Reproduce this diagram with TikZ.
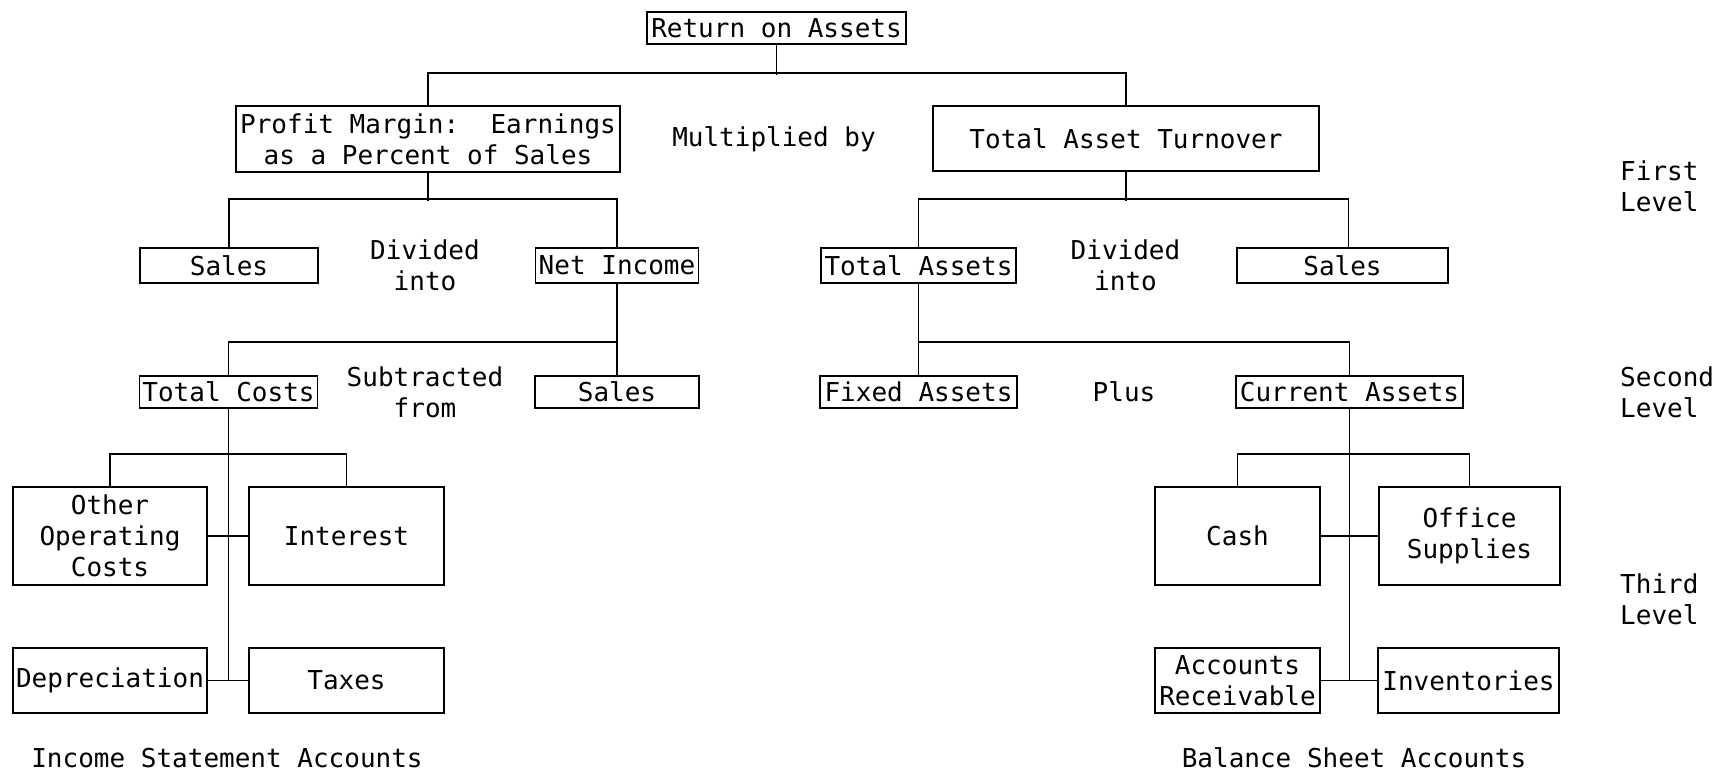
\documentclass[tikz,border=0pt]{standalone}
\usepackage{fontspec}
\setmainfont{DejaVu Sans Mono}
\begin{document}
\begin{tikzpicture}[x=1pt,y=-1pt,
  every node/.style={font=\fontsize{26}{31}\selectfont},
  box/.style={draw,line width=1.8pt,inner sep=0pt,align=center},
  lbl/.style={inner sep=0pt,align=center},
  lvl/.style={inner sep=0pt,align=left,anchor=west},
  conn/.style={line width=1.8pt}]
\fill[white] (0,0) rectangle (1720,772);
\useasboundingbox (0,0) rectangle (1720,772);

% top
\node[box,minimum width=259,minimum height=32] (roa) at (776.5,28) {Return on Assets};
\node[box,minimum width=384,minimum height=66] (pm) at (428,139) {Profit Margin:~~Earnings\\as a Percent of Sales};
\node[lbl] (mult) at (774,139) {Multiplied by};
\node[box,minimum width=386,minimum height=65] (tat) at (1126,138.5) {Total Asset Turnover};

% first level
\node[box,minimum width=178,minimum height=35] (sales1) at (229,265.5) {Sales};
\node[lbl] (div1) at (425,265) {Divided\\into};
\node[box,minimum width=163,minimum height=35] (ni) at (617,265.5) {Net Income};
\node[box,minimum width=195,minimum height=35] (ta) at (918.5,265.5) {Total Assets};
\node[lbl] (div2) at (1125.5,265) {Divided\\into};
\node[box,minimum width=211,minimum height=35] (sales2) at (1342.5,265.5) {Sales};
\node[lvl] (first) at (1620,186) {First\\Level};

% second level
\node[box,minimum width=178,minimum height=32] (tc) at (228.5,392) {Total Costs};
\node[lbl] (sub) at (425,392) {Subtracted\\from};
\node[box,minimum width=164,minimum height=32] (sales3) at (617,392) {Sales};
\node[box,minimum width=197,minimum height=32] (fa) at (918.5,392) {Fixed Assets};
\node[lbl] (plus) at (1124,392) {Plus};
\node[box,minimum width=227,minimum height=32] (ca) at (1349.5,392) {Current Assets};
\node[lvl] (second) at (1620,392) {Second\\Level};

% third level
\node[box,minimum width=194,minimum height=98] (ooc) at (110,536) {Other\\Operating\\Costs};
\node[box,minimum width=195,minimum height=98] (int) at (346.5,536) {Interest};
\node[box,minimum width=194,minimum height=65] (dep) at (110,680.5) {Depreciation};
\node[box,minimum width=195,minimum height=65] (tax) at (346.5,680.5) {Taxes};
\node[box,minimum width=165,minimum height=98] (cash) at (1237.5,536) {Cash};
\node[box,minimum width=181,minimum height=98] (os) at (1469.5,536) {Office\\Supplies};
\node[box,minimum width=165,minimum height=65] (ar) at (1237.5,680.5) {Accounts\\Receivable};
\node[box,minimum width=181,minimum height=65] (inv) at (1468.5,680.5) {Inventories};
\node[lvl] (third) at (1620,599) {Third\\Level};

\node[lbl] (isa) at (227,758) {Income Statement Accounts};
\node[lbl] (bsa) at (1354,758) {Balance Sheet Accounts};

% connectors
\draw[conn] (roa.south) -- ++(0,30);
\draw[conn] (pm.north) -- ++(0,-32) -| (tat.north);

\draw[conn] (pm.south) -- ++(0,28);
\draw[conn] (sales1.north) -- ++(0,-48) -| (ni.north);
\draw[conn] (tat.south) -- ++(0,29.5);
\draw[conn] (ta.north) -- ++(0,-48) -| ([xshift=6pt]sales2.north);

\draw[conn] (ni.south) -- (sales3.north);
\draw[conn] (tc.north) -- ++(0,-33) -| (sales3.north);
\draw[conn] (ta.south) -- (fa.north);
\draw[conn] (fa.north) -- ++(0,-33) -| (ca.north);

\draw[conn] (tc.south) -- (tc.south |- dep.east);
\draw[conn] (ooc.north) -- ++(0,-32) -| (int.north);
\draw[conn] (ooc.east) -- (int.west);
\draw[conn] (dep.east) -- (tax.west);

\draw[conn] (ca.south) -- (ca.south |- ar.east);
\draw[conn] (cash.north) -- ++(0,-32) -| (os.north);
\draw[conn] (cash.east) -- (os.west);
\draw[conn] (ar.east) -- (inv.west);
\end{tikzpicture}
\end{document}
